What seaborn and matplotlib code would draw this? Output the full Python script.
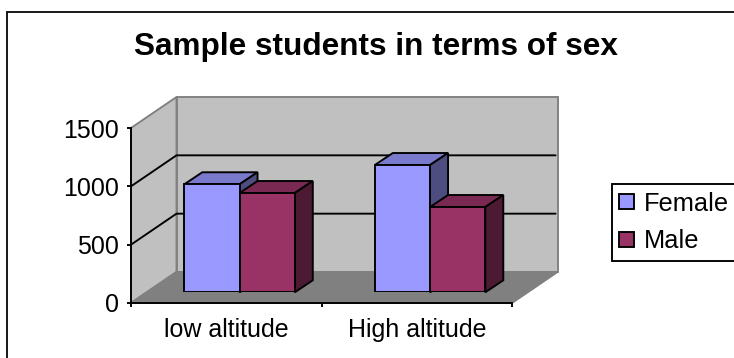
import matplotlib
matplotlib.use("Agg")
import matplotlib.pyplot as plt
from matplotlib.patches import Polygon, Rectangle
import numpy as np
import pandas as pd
import seaborn as sns

categories = ["low altitude", "High altitude"]
female = [926, 1091]
male = [851, 731]
series_names = ["Female", "Male"]
y_ticks = [0, 500, 1000, 1500]

WIDTH, HEIGHT, DPI = 734, 358, 100
FEMALE_RGB = np.array([0x99, 0x99, 0xFF]) / 255
MALE_RGB = np.array([0x99, 0x33, 0x66]) / 255
WALL = "#C0C0C0"
FLOOR = "#808080"
EDGE_PT = 1.9 * 72 / DPI

sns.set_theme(style="white")
plt.rcParams["font.family"] = ["Liberation Sans", "DejaVu Sans"]

df = pd.DataFrame({
    "site": categories * 2,
    "sex": [series_names[0]] * 2 + [series_names[1]] * 2,
    "students": female + male,
})


def box(left, top, right, bottom):
    """Axes rectangle in figure fractions from pixel edges."""
    return [left / WIDTH, 1 - bottom / HEIGHT, (right - left) / WIDTH, (bottom - top) / HEIGHT]


fig = plt.figure(figsize=(WIDTH / DPI, HEIGHT / DPI), dpi=DPI, facecolor="white")

# Outer chart frame; its right and bottom sides run past the canvas.
fig.add_artist(Rectangle((7 / WIDTH, -0.1), 1, 1.1 - 12 / HEIGHT, transform=fig.transFigure,
                         fill=False, edgecolor="#111111", linewidth=EDGE_PT))

# Front plane: carries the value and category axes.
ax = fig.add_axes(box(131, 128, 512, 303))
ax.patch.set_visible(False)
ax.set_xlim(-0.5, 1.5)
ax.set_ylim(0, 1500)

# Depth of the whole box, expressed in data units.
box_dx = 45.5 / 381 * 2
box_dy = 31 / 175 * 1500
x0, x1 = -0.5, 1.5
y0, y1 = 0, 1500


def shell(points, face):
    ax.add_patch(Polygon(points, closed=True, facecolor=face, edgecolor=FLOOR,
                         linewidth=EDGE_PT, clip_on=False, zorder=1))


shell([(x0, y0), (x0 + box_dx, y0 + box_dy), (x0 + box_dx, y1 + box_dy), (x0, y1)], WALL)
shell([(x0 + box_dx, y0 + box_dy), (x1 + box_dx, y0 + box_dy),
       (x1 + box_dx, y1 + box_dy), (x0 + box_dx, y1 + box_dy)], WALL)
shell([(x0, y0), (x1, y0), (x1 + box_dx, y0 + box_dy), (x0 + box_dx, y0 + box_dy)], FLOOR)

for value in y_ticks[1:-1]:
    ax.plot([x0, x0 + box_dx, x1 + box_dx - 0.01], [value, value + box_dy, value + box_dy],
            color="black", linewidth=EDGE_PT, clip_on=False, zorder=1.5)

for side in ["top", "right"]:
    ax.spines[side].set_visible(False)
for side in ["left", "bottom"]:
    ax.spines[side].set_color("black")
    ax.spines[side].set_linewidth(EDGE_PT)
    ax.spines[side].set_zorder(1.6)

ax.set_yticks(y_ticks)
ax.set_xticks([-0.5, 0.5, 1.5])
ax.set_xticklabels([])
ax.set_xticks([0, 1], labels=categories, minor=True)
ax.tick_params(axis="y", length=4 * 72 / DPI, width=EDGE_PT, color="black", left=True,
               labelsize=18, pad=5.5, labelcolor="black")
ax.tick_params(axis="x", which="major", length=4 * 72 / DPI, width=EDGE_PT, color="black", bottom=True)
ax.tick_params(axis="x", which="minor", length=0, labelsize=18, pad=11, labelcolor="black", bottom=False)
ax.set_xlabel("")
ax.set_ylabel("")

# Bar plane sits part way into the box, on the same scale as the front plane.
ax_bars = fig.add_axes(box(144.3, 117.3, 525.3, 292.3))
sns.barplot(data=df, x="site", y="students", hue="sex", order=categories, hue_order=series_names,
            palette=[FEMALE_RGB, MALE_RGB], width=0.58, gap=0, saturation=1,
            edgecolor="black", linewidth=EDGE_PT, errorbar=None, ax=ax_bars)
ax_bars.set_xlim(-0.5, 1.5)
ax_bars.set_ylim(0, 1500)
ax_bars.patch.set_visible(False)
for spine in ax_bars.spines.values():
    spine.set_visible(False)
ax_bars.set_xticks([])
ax_bars.set_yticks([])
ax_bars.set_xlabel("")
ax_bars.set_ylabel("")

# Extrude each bar with a shaded top and side face.
bar_dx = 18 / 190.5
bar_dy = 12 / 175 * 1500
for layer, (container, rgb) in enumerate(zip(ax_bars.containers, [FEMALE_RGB, MALE_RGB])):
    z = 3 + layer
    for bar in container:
        left, right = bar.get_x(), bar.get_x() + bar.get_width()
        height = bar.get_height()
        bar.set_zorder(z + 0.1)
        ax_bars.add_patch(Polygon(
            [(left, height), (right, height), (right + bar_dx, height + bar_dy), (left + bar_dx, height + bar_dy)],
            closed=True, facecolor=rgb * 0.8, edgecolor="black", linewidth=EDGE_PT, clip_on=False, zorder=z))
        ax_bars.add_patch(Polygon(
            [(right, 0), (right + bar_dx, bar_dy), (right + bar_dx, height + bar_dy), (right, height)],
            closed=True, facecolor=rgb * 0.5, edgecolor="black", linewidth=EDGE_PT, clip_on=False, zorder=z))

sns.move_legend(
    ax_bars, "upper left", bbox_to_anchor=(611.5 / WIDTH, 1 - 184 / HEIGHT),
    bbox_transform=fig.transFigure, title=None, frameon=True, fontsize=18.3, fancybox=False,
    borderaxespad=0, borderpad=0.3, handlelength=0.6, handleheight=0.5, handletextpad=0.38,
    labelspacing=0.54, edgecolor="black", framealpha=1,
)
legend = ax_bars.get_legend()
legend.get_frame().set_linewidth(EDGE_PT)
legend.get_frame().set_facecolor("white")
for label in legend.get_texts():
    label.set_color("black")

fig.suptitle("Sample students in terms of sex", x=375.5 / WIDTH, y=1 - 46.5 / HEIGHT, va="center",
             fontsize=22.7, fontweight="bold", color="black")

fig.savefig("out.png", dpi=DPI)
